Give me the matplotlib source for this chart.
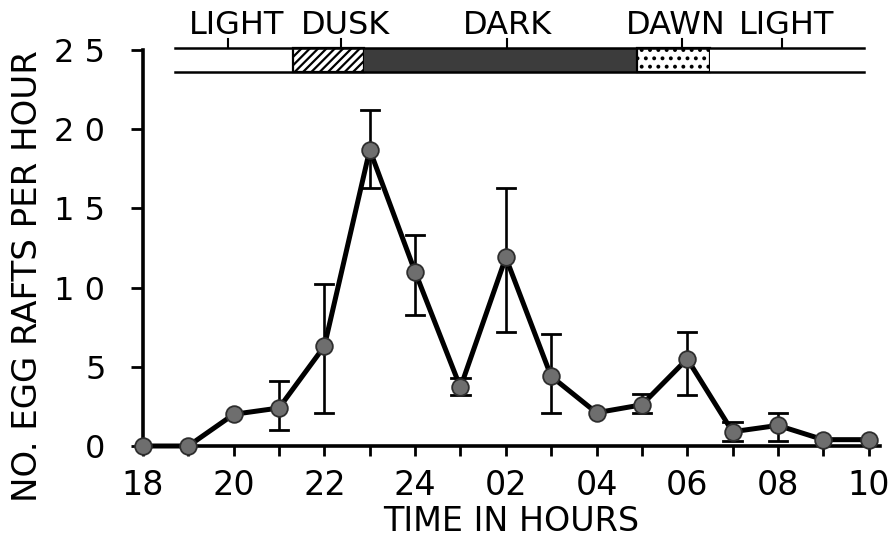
import matplotlib
matplotlib.use("Agg")
import matplotlib.pyplot as plt
from matplotlib.patches import Rectangle

# hours after 18:00 on a continuous scale (24 -> midnight, 26 -> 02, ...)
hours = [18, 19, 20, 21, 22, 23, 24, 25, 26, 27, 28, 29, 30, 31, 32, 33, 34]
rafts = [0.0, 0.0, 2.0, 2.4, 6.3, 18.7, 11.0, 3.7, 11.9, 4.4, 2.1, 2.6, 5.5, 0.9, 1.3, 0.4, 0.4]
err_hi = [None, None, None, 4.1, 10.2, 21.2, 13.3, 4.3, 16.3, 7.1, None, 3.3, 7.2, 1.5, 2.1, None, None]
err_lo = [None, None, None, 1.0, 2.1, 16.3, 8.3, 3.2, 7.2, 2.1, None, 2.1, 3.2, 0.3, 0.3, None, None]
xtick_labels = ["18", "", "20", "", "22", "", "24", "", "02", "", "04", "", "06", "", "08", "", "10"]
ytick_vals = [0, 5, 10, 15, 20, 25]
ytick_labels = ["0", "5", "1 0", "1 5", "2 0", "2 5"]

# light/dark regime bar above the plot
periods = ["LIGHT", "DUSK", "DARK", "DAWN", "LIGHT"]
period_start = [18.7, 21.3, 22.87, 28.9, 30.51]
period_end = [21.3, 22.87, 28.9, 30.51, 33.9]
period_tick = [19.87, 22.36, 26.02, 29.89, 32.1]
period_label_x = [20.07, 22.47, 26.04, 29.75, 32.2]

plt.rcParams['font.family'] = ['DejaVu Sans']
plt.rcParams['hatch.linewidth'] = 1.6

fig = plt.figure(figsize=(8.93, 5.41), dpi=100)
ax = fig.add_axes([0.1601, 0.1756, 0.8253, 0.7320])

# error bars
for h, hi, lo in zip(hours, err_hi, err_lo):
    if hi is None:
        continue
    ax.plot([h, h], [lo, hi], color='black', lw=1.9, zorder=2, solid_capstyle='butt')
    for v in (lo, hi):
        ax.plot([h - 0.2, h + 0.2], [v, v], color='black', lw=2.0, zorder=2)

ax.plot(hours, rafts, color='black', lw=3.6, zorder=3,
        marker='o', markersize=12, markerfacecolor='#6e6e6e',
        markeredgecolor='#2e2e2e', markeredgewidth=1.3, clip_on=False)

ax.set_xlim(18, 34.25)
ax.set_ylim(0, 25)

ax.spines['top'].set_visible(False)
ax.spines['right'].set_visible(False)
ax.spines['left'].set_linewidth(2.6)
ax.spines['bottom'].set_linewidth(2.6)

ax.set_xticks(hours)
ax.set_xticklabels(xtick_labels, fontsize=24)
ax.set_yticks(ytick_vals)
ax.set_yticklabels(ytick_labels, fontsize=23)
ax.tick_params(axis='x', direction='out', length=7.5, width=2.0, pad=9)
ax.tick_params(axis='y', direction='out', length=9, width=2.0, pad=18)

ax.set_xlabel("TIME IN HOURS", fontsize=24, labelpad=2)
fig.text(0.031, 0.49, "NO. EGG RAFTS PER HOUR", rotation=90, fontsize=24.5,
         ha='center', va='center')

# regime bar
bar_lo, bar_hi = 23.6, 25.13
styles = [dict(facecolor='white'),
          dict(facecolor='white', hatch='////'),
          dict(facecolor='#3c3c3c'),
          dict(facecolor='white', hatch='..'),
          dict(facecolor='white')]
for s, e, st in zip(period_start, period_end, styles):
    edge = 'black' if st.get('hatch') else 'none'
    r = Rectangle((s, bar_lo), e - s, bar_hi - bar_lo, edgecolor=edge, lw=1.6,
                  clip_on=False, zorder=4, **st)
    ax.add_patch(r)
ax.plot([period_start[0], period_end[-1]], [bar_hi, bar_hi], color='black', lw=1.8,
        clip_on=False, zorder=5)
ax.plot([period_start[0], period_end[-1]], [bar_lo, bar_lo], color='black', lw=1.8,
        clip_on=False, zorder=5)
for t in period_tick:
    ax.plot([t, t], [bar_hi, bar_hi + 0.55], color='black', lw=1.5, clip_on=False, zorder=5)
for name, lx in zip(periods, period_label_x):
    ax.text(lx, bar_hi + 0.45, name, fontsize=23, ha='center', va='bottom')

fig.savefig("out.png", dpi=100)
